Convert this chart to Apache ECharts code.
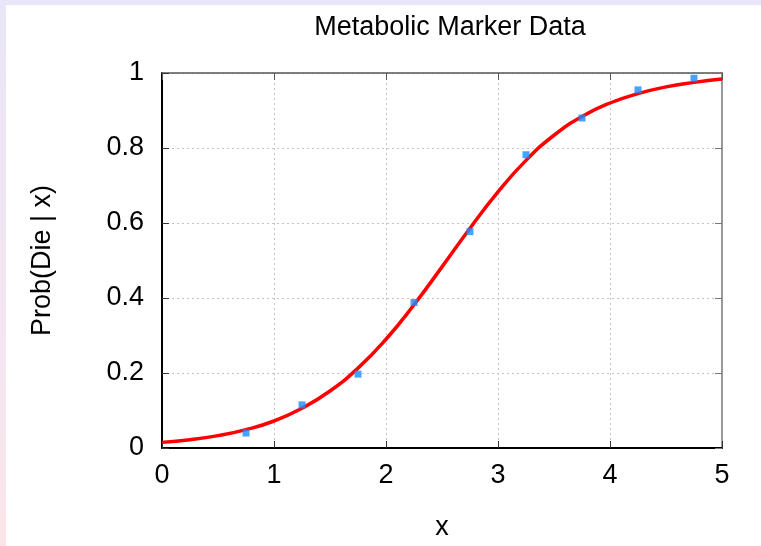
<!DOCTYPE html>
<html>
<head>
<meta charset="utf-8">
<script src="https://cdn.jsdelivr.net/npm/echarts@6/dist/echarts.min.js"></script>
<style>
	html, body { margin: 0; padding: 0; }
	body { width: 761px; height: 546px; position: relative; overflow: hidden;
		background: linear-gradient(to bottom, #e8e6f8, #fbe5ea); }
	#paper { position: absolute; left: 6px; top: 5px; right: 0; bottom: 0; background: #fff; }
	#main { position: absolute; left: 0; top: 0; width: 761px; height: 546px; }
</style>
</head>
<body>
<div id="paper"></div>
<div id="main"></div>
<script>
	// observed data points
	var pointX = [0.75, 1.25, 1.75, 2.25, 2.75, 3.25, 3.75, 4.25, 4.75]
	var pointY = [0.040, 0.115, 0.197, 0.388, 0.577, 0.782, 0.880, 0.955, 0.986]
	// fitted curve
	var curveX = [0, 0.25, 0.5, 0.75, 1, 1.25, 1.5, 1.75, 2, 2.25, 2.5, 2.75, 3, 3.25, 3.5, 3.75, 4, 4.25, 4.5, 4.75, 5]
	var curveY = [0.015, 0.022, 0.033, 0.049, 0.072, 0.106, 0.152, 0.213, 0.290, 0.382, 0.483, 0.586, 0.683, 0.767, 0.834, 0.884, 0.920, 0.945, 0.963, 0.975, 0.984]

	var font = 'Liberation Sans, Arial, sans-serif'
	var fs = 27

	var points = pointX.map(function (x, i) { return [x, pointY[i]] })
	var curve = curveX.map(function (x, i) { return [x, curveY[i]] })

	var dom = echarts.init(document.getElementById('main'))
	var option = {
		animation: false,
		backgroundColor: 'transparent',
		title: {
			text: 'Metabolic Marker Data',
			left: 445,
			top: 9,
			textAlign: 'center',
			textStyle: {
				fontFamily: font,
				fontSize: fs,
				fontWeight: 'normal',
				color: '#000'
			}
		},
		grid: {
			left: 162,
			right: 39,
			top: 73,
			bottom: 97
		},
		xAxis: [{
			type: 'value',
			min: 0,
			max: 5,
			interval: 1,
			name: 'x',
			nameLocation: 'middle',
			nameGap: 66,
			nameTextStyle: { fontFamily: font, fontSize: fs, color: '#000' },
			axisLine: { show: true, onZero: false, lineStyle: { color: '#000', width: 2 } },
			axisTick: { show: true, inside: true, length: 7, lineStyle: { color: '#333', width: 1 } },
			axisLabel: { fontFamily: font, fontSize: fs, color: '#000', margin: 14 },
			splitLine: { show: true, lineStyle: { color: '#c4c4c4', type: [2, 3], width: 1 } }
		}, {
			type: 'value',
			position: 'top',
			min: 0,
			max: 5,
			interval: 1,
			axisLine: { show: true, onZero: false, lineStyle: { color: '#555', width: 1.5 } },
			axisTick: { show: true, inside: true, length: 7, lineStyle: { color: '#555', width: 1 } },
			axisLabel: { show: false },
			splitLine: { show: false }
		}],
		yAxis: [{
			type: 'value',
			min: 0,
			max: 1,
			interval: 0.2,
			name: 'Prob(Die | x)',
			nameLocation: 'middle',
			nameGap: 106,
			nameRotate: 90,
			nameTextStyle: { fontFamily: font, fontSize: fs, color: '#000' },
			axisLine: { show: true, onZero: false, lineStyle: { color: '#000', width: 2 } },
			axisTick: { show: true, inside: true, length: 7, lineStyle: { color: '#333', width: 1 } },
			axisLabel: { fontFamily: font, fontSize: fs, color: '#000', margin: 18 },
			splitLine: { show: true, lineStyle: { color: '#c4c4c4', type: [2, 3], width: 1 } }
		}, {
			type: 'value',
			position: 'right',
			min: 0,
			max: 1,
			interval: 0.2,
			axisLine: { show: true, onZero: false, lineStyle: { color: '#999', width: 2 } },
			axisTick: { show: true, inside: true, length: 7, lineStyle: { color: '#777', width: 1 } },
			axisLabel: { show: false },
			splitLine: { show: false }
		}],
		series: [{
			name: 'fit',
			type: 'line',
			data: curve,
			smooth: true,
			showSymbol: false,
			lineStyle: { color: '#ff0000', width: 3.5 },
			z: 2
		}, {
			name: 'data',
			type: 'scatter',
			data: points,
			symbol: 'rect',
			symbolSize: 7,
			itemStyle: { color: '#1a8cff' },
			z: 3
		}]
	}
	dom.setOption(option)
</script>
</body>
</html>
